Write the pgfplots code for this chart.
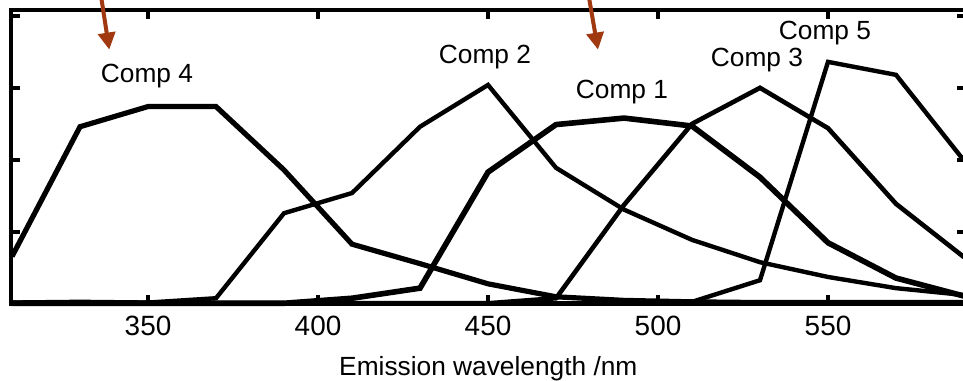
\documentclass[border=0pt]{standalone}
\usepackage{fontspec}
\setmainfont{Liberation Sans}
\usepackage{pgfplots}
\pgfplotsset{compat=1.18}
\usetikzlibrary{arrows.meta}
\definecolor{arrowred}{RGB}{160,56,16}
\pgfplotstableread{
x c1 c2 c3 c4 c5
310 0.01 0.02 0.01 0.66 0.01
330 0.01 0.03 0.01 2.46 0.01
350 0.01 0.02 0.01 2.74 0.01
370 0.01 0.08 0.01 2.74 0.01
390 0.01 1.26 0.01 1.86 0.01
410 0.08 1.54 0.01 0.83 0.01
430 0.22 2.46 0.01 0.56 0.01
450 1.83 3.04 0.01 0.28 0.01
470 2.49 1.89 0.08 0.10 0.01
490 2.58 1.31 1.375 0.05 0.01
510 2.47 0.89 2.50 0.03 0.03
530 1.76 0.58 3.00 0.02 0.33
550 0.85 0.375 2.44 0.02 3.36
570 0.36 0.22 1.39 0.02 3.18
590 0.11 0.125 0.65 0.02 1.99
}\data
\begin{document}
\begin{tikzpicture}
\useasboundingbox (-5.5bp,-38.5bp) rectangle (476bp,152bp);
\begin{axis}[
  scale only axis, width=477.35bp, height=147bp,
  xmin=309.7, xmax=590.5, ymin=0, ymax=4.08,
  xtick={350,400,450,500,550}, ytick={0,1,2,3,4}, yticklabels={},
  tick pos=both, tick align=inside, major tick length=4.5bp,
  every tick/.style={black, line width=1.8bp},
  axis line style={line width=2bp},
  /pgf/number format/assume math mode=true,
  ticklabel style={font=\fontsize{14}{16}\selectfont},
  xticklabel style={yshift=-2.5bp},
  xlabel={Emission wavelength /nm},
  label style={font=\fontsize{13.2}{15}\selectfont},
  xlabel style={yshift=-3.5bp},
  clip=false,
]
\addplot[black, line width=2.8bp, line join=miter] table[x=x,y=c1] {\data};
\addplot[black, line width=2.2bp, line join=miter] table[x=x,y=c2] {\data};
\addplot[black, line width=2.3bp, line join=miter] table[x=x,y=c3] {\data};
\addplot[black, line width=2.6bp, line join=miter] table[x=x,y=c4] {\data};
\addplot[black, line width=2.2bp, line join=miter] table[x=x,y=c5] {\data};
\node[font=\fontsize{13.2}{15}\selectfont] at (axis cs:349.7,3.17) {Comp 4};
\node[font=\fontsize{13.2}{15}\selectfont] at (axis cs:449.1,3.43) {Comp 2};
\node[font=\fontsize{13.2}{15}\selectfont] at (axis cs:489.4,2.94) {Comp 1};
\node[font=\fontsize{13.2}{15}\selectfont] at (axis cs:529.1,3.39) {Comp 3};
\node[font=\fontsize{13.2}{15}\selectfont] at (axis cs:549.1,3.76) {Comp 5};
\draw[arrowred, line width=2bp, -{Triangle[length=8.5bp,width=8.5bp]}] (axis cs:335.9,4.36) -- (axis cs:338.6,3.53);
\draw[arrowred, line width=2bp, -{Triangle[length=8.5bp,width=8.5bp]}] (axis cs:479.3,4.36) -- (axis cs:482.35,3.53);
\end{axis}
\end{tikzpicture}
\end{document}
